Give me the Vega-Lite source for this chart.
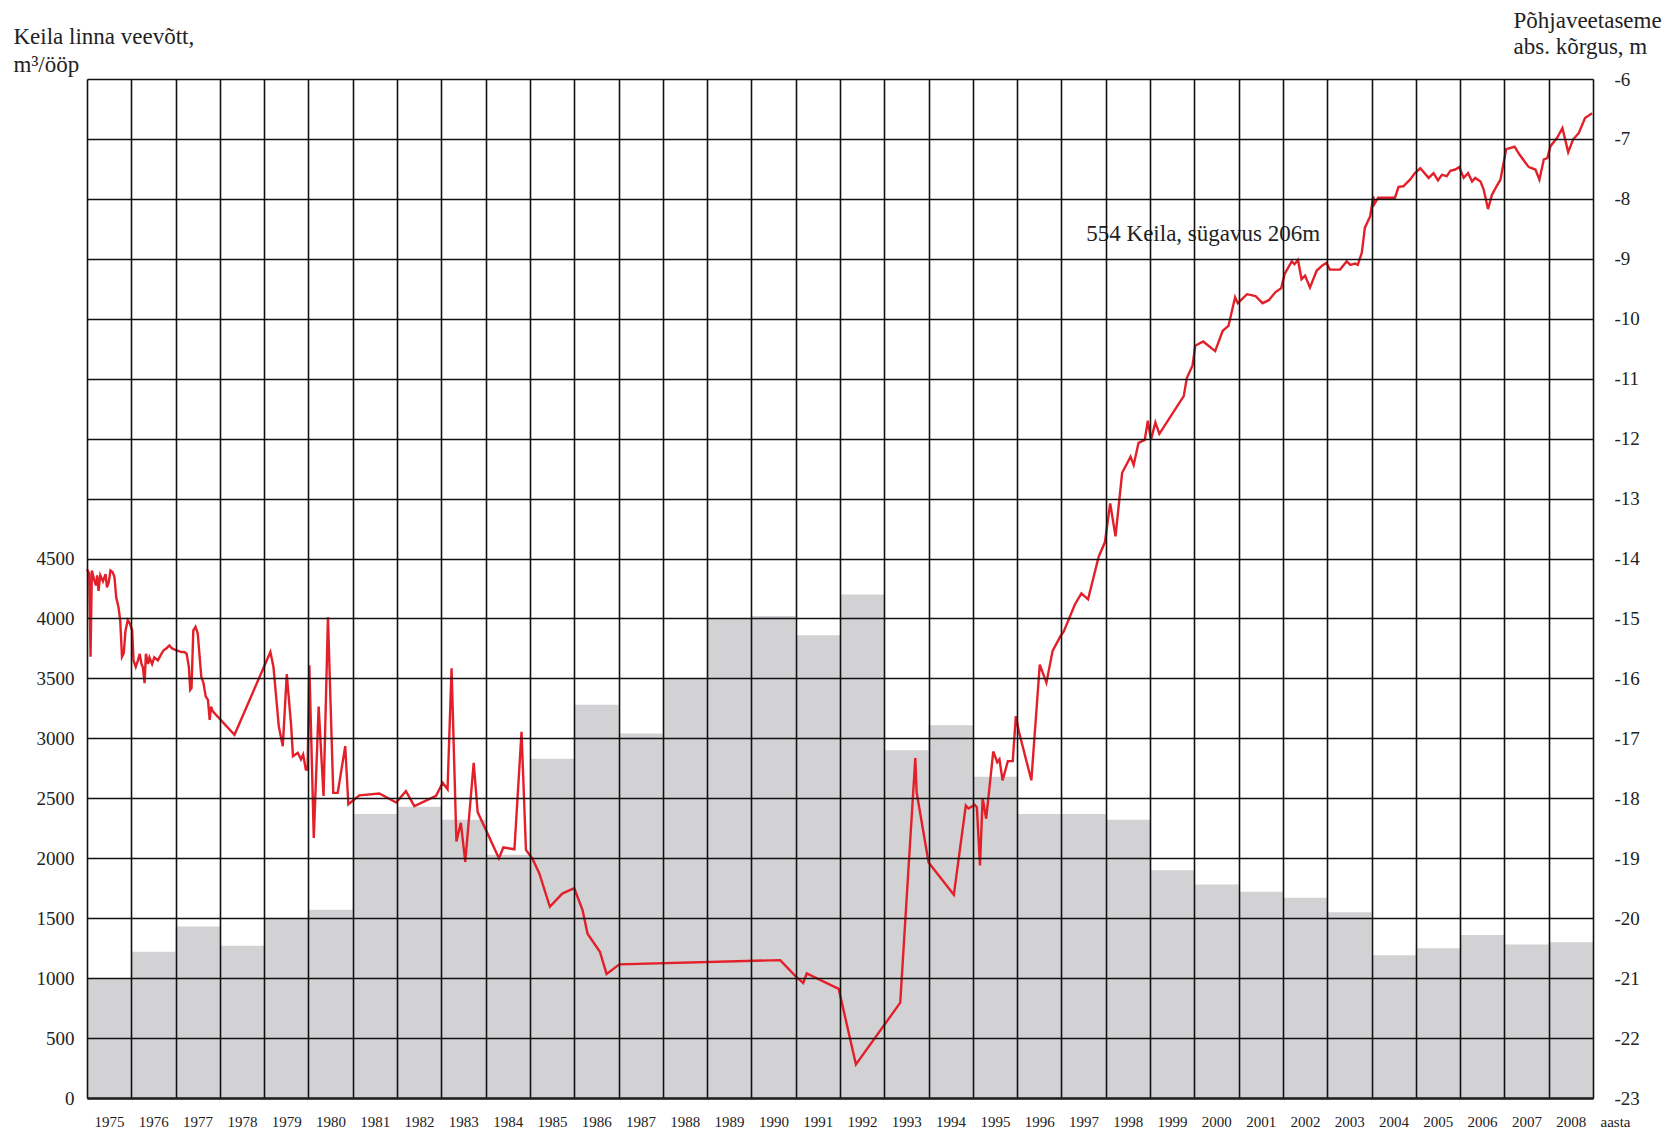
{
  "$schema": "https://vega.github.io/schema/vega-lite/v6.json",
  "autosize": {"type": "none"},
  "padding": {"left": 87, "top": 79, "right": 82, "bottom": 35},
  "width": 1506,
  "height": 1019,
  "background": "white",
  "config": {
    "view": {"stroke": null},
    "font": "Liberation Serif"
  },
  "datasets": {
    "bars": [
      {"from": 1975, "to": 1976, "v": 1000}, {"from": 1976, "to": 1977, "v": 1220},
      {"from": 1977, "to": 1978, "v": 1430}, {"from": 1978, "to": 1979, "v": 1270},
      {"from": 1979, "to": 1980, "v": 1500}, {"from": 1980, "to": 1981, "v": 1570},
      {"from": 1981, "to": 1982, "v": 2370}, {"from": 1982, "to": 1983, "v": 2430},
      {"from": 1983, "to": 1984, "v": 2320}, {"from": 1984, "to": 1985, "v": 2030},
      {"from": 1985, "to": 1986, "v": 2830}, {"from": 1986, "to": 1987, "v": 3280},
      {"from": 1987, "to": 1988, "v": 3040}, {"from": 1988, "to": 1989, "v": 3500},
      {"from": 1989, "to": 1990, "v": 4000}, {"from": 1990, "to": 1991, "v": 4020},
      {"from": 1991, "to": 1992, "v": 3860}, {"from": 1992, "to": 1993, "v": 4200},
      {"from": 1993, "to": 1994, "v": 2900}, {"from": 1994, "to": 1995, "v": 3110},
      {"from": 1995, "to": 1996, "v": 2680}, {"from": 1996, "to": 1997, "v": 2370},
      {"from": 1997, "to": 1998, "v": 2370}, {"from": 1998, "to": 1999, "v": 2320},
      {"from": 1999, "to": 2000, "v": 1900}, {"from": 2000, "to": 2001, "v": 1780},
      {"from": 2001, "to": 2002, "v": 1720}, {"from": 2002, "to": 2003, "v": 1670},
      {"from": 2003, "to": 2004, "v": 1550}, {"from": 2004, "to": 2005, "v": 1190},
      {"from": 2005, "to": 2006, "v": 1250}, {"from": 2006, "to": 2007, "v": 1360},
      {"from": 2007, "to": 2008, "v": 1280}, {"from": 2008, "to": 2009, "v": 1300}
    ],
    "level": [
      {"t": 1975.00, "h": -14.18}, {"t": 1975.05, "h": -14.25}, {"t": 1975.08, "h": -15.64},
      {"t": 1975.11, "h": -14.20}, {"t": 1975.16, "h": -14.35}, {"t": 1975.20, "h": -14.45},
      {"t": 1975.23, "h": -14.28}, {"t": 1975.26, "h": -14.54}, {"t": 1975.30, "h": -14.28},
      {"t": 1975.36, "h": -14.38}, {"t": 1975.42, "h": -14.26}, {"t": 1975.45, "h": -14.48},
      {"t": 1975.49, "h": -14.40}, {"t": 1975.53, "h": -14.20}, {"t": 1975.58, "h": -14.23},
      {"t": 1975.62, "h": -14.31}, {"t": 1975.66, "h": -14.65}, {"t": 1975.71, "h": -14.81},
      {"t": 1975.75, "h": -15.03}, {"t": 1975.79, "h": -15.64}, {"t": 1975.83, "h": -15.58},
      {"t": 1975.87, "h": -15.20}, {"t": 1975.92, "h": -15.03}, {"t": 1975.97, "h": -15.09},
      {"t": 1976.02, "h": -15.20}, {"t": 1976.05, "h": -15.70}, {"t": 1976.10, "h": -15.81},
      {"t": 1976.15, "h": -15.70}, {"t": 1976.19, "h": -15.59}, {"t": 1976.23, "h": -15.76},
      {"t": 1976.26, "h": -15.81}, {"t": 1976.30, "h": -16.08}, {"t": 1976.33, "h": -15.59},
      {"t": 1976.38, "h": -15.76}, {"t": 1976.41, "h": -15.65}, {"t": 1976.47, "h": -15.76},
      {"t": 1976.52, "h": -15.65}, {"t": 1976.60, "h": -15.70}, {"t": 1976.68, "h": -15.59},
      {"t": 1976.73, "h": -15.53}, {"t": 1976.79, "h": -15.50}, {"t": 1976.86, "h": -15.45},
      {"t": 1976.92, "h": -15.50}, {"t": 1977.01, "h": -15.53}, {"t": 1977.13, "h": -15.56},
      {"t": 1977.20, "h": -15.56}, {"t": 1977.25, "h": -15.59}, {"t": 1977.30, "h": -15.81},
      {"t": 1977.33, "h": -16.19}, {"t": 1977.36, "h": -16.16}, {"t": 1977.40, "h": -15.20},
      {"t": 1977.45, "h": -15.14}, {"t": 1977.50, "h": -15.25}, {"t": 1977.54, "h": -15.61},
      {"t": 1977.58, "h": -15.97}, {"t": 1977.63, "h": -16.08}, {"t": 1977.68, "h": -16.30},
      {"t": 1977.73, "h": -16.36}, {"t": 1977.77, "h": -16.69}, {"t": 1977.80, "h": -16.47},
      {"t": 1977.84, "h": -16.55}, {"t": 1978.33, "h": -16.94}, {"t": 1979.14, "h": -15.56},
      {"t": 1979.21, "h": -15.81}, {"t": 1979.33, "h": -16.80}, {"t": 1979.42, "h": -17.13},
      {"t": 1979.51, "h": -15.93}, {"t": 1979.61, "h": -16.80}, {"t": 1979.65, "h": -17.30},
      {"t": 1979.76, "h": -17.24}, {"t": 1979.83, "h": -17.35}, {"t": 1979.88, "h": -17.27},
      {"t": 1979.94, "h": -17.52}, {"t": 1979.98, "h": -17.52}, {"t": 1980.02, "h": -15.78},
      {"t": 1980.12, "h": -18.66}, {"t": 1980.23, "h": -16.47}, {"t": 1980.34, "h": -17.96},
      {"t": 1980.44, "h": -14.98}, {"t": 1980.56, "h": -17.91}, {"t": 1980.66, "h": -17.91},
      {"t": 1980.83, "h": -17.13}, {"t": 1980.90, "h": -18.10}, {"t": 1981.15, "h": -17.95},
      {"t": 1981.60, "h": -17.92}, {"t": 1981.98, "h": -18.07}, {"t": 1982.20, "h": -17.88},
      {"t": 1982.39, "h": -18.13}, {"t": 1982.88, "h": -17.96}, {"t": 1983.03, "h": -17.74},
      {"t": 1983.14, "h": -17.85}, {"t": 1983.23, "h": -15.83}, {"t": 1983.34, "h": -18.72},
      {"t": 1983.44, "h": -18.41}, {"t": 1983.54, "h": -19.06}, {"t": 1983.73, "h": -17.41},
      {"t": 1983.82, "h": -18.23}, {"t": 1984.30, "h": -19.00}, {"t": 1984.40, "h": -18.82},
      {"t": 1984.65, "h": -18.85}, {"t": 1984.81, "h": -16.89}, {"t": 1984.91, "h": -18.86},
      {"t": 1985.05, "h": -19.00}, {"t": 1985.21, "h": -19.25}, {"t": 1985.45, "h": -19.81},
      {"t": 1985.73, "h": -19.59}, {"t": 1986.00, "h": -19.50}, {"t": 1986.19, "h": -19.87},
      {"t": 1986.30, "h": -20.26}, {"t": 1986.58, "h": -20.56}, {"t": 1986.73, "h": -20.93},
      {"t": 1987.02, "h": -20.77}, {"t": 1990.65, "h": -20.70}, {"t": 1991.00, "h": -20.97},
      {"t": 1991.17, "h": -21.08}, {"t": 1991.25, "h": -20.92}, {"t": 1991.97, "h": -21.18},
      {"t": 1992.36, "h": -22.44}, {"t": 1993.36, "h": -21.41}, {"t": 1993.70, "h": -17.33},
      {"t": 1993.73, "h": -17.90}, {"t": 1994.00, "h": -19.07}, {"t": 1994.57, "h": -19.61},
      {"t": 1994.84, "h": -18.12}, {"t": 1994.90, "h": -18.17}, {"t": 1995.04, "h": -18.11},
      {"t": 1995.09, "h": -18.15}, {"t": 1995.16, "h": -19.12}, {"t": 1995.22, "h": -18.00},
      {"t": 1995.30, "h": -18.34}, {"t": 1995.46, "h": -17.22}, {"t": 1995.55, "h": -17.40},
      {"t": 1995.60, "h": -17.35}, {"t": 1995.67, "h": -17.70}, {"t": 1995.79, "h": -17.38},
      {"t": 1995.90, "h": -17.38}, {"t": 1995.97, "h": -16.63}, {"t": 1996.04, "h": -16.89},
      {"t": 1996.32, "h": -17.70}, {"t": 1996.51, "h": -15.77}, {"t": 1996.66, "h": -16.07},
      {"t": 1996.80, "h": -15.54}, {"t": 1996.98, "h": -15.29}, {"t": 1997.05, "h": -15.22},
      {"t": 1997.30, "h": -14.77}, {"t": 1997.45, "h": -14.58}, {"t": 1997.60, "h": -14.68},
      {"t": 1997.84, "h": -13.97}, {"t": 1997.98, "h": -13.73}, {"t": 1998.10, "h": -13.08},
      {"t": 1998.22, "h": -13.63}, {"t": 1998.37, "h": -12.57}, {"t": 1998.56, "h": -12.30},
      {"t": 1998.63, "h": -12.44}, {"t": 1998.74, "h": -12.07}, {"t": 1998.88, "h": -12.02},
      {"t": 1998.95, "h": -11.70}, {"t": 1999.02, "h": -12.02}, {"t": 1999.12, "h": -11.73},
      {"t": 1999.21, "h": -11.92}, {"t": 1999.76, "h": -11.29}, {"t": 1999.83, "h": -10.99},
      {"t": 1999.96, "h": -10.78}, {"t": 2000.02, "h": -10.45}, {"t": 2000.20, "h": -10.38},
      {"t": 2000.47, "h": -10.54}, {"t": 2000.64, "h": -10.20}, {"t": 2000.77, "h": -10.12},
      {"t": 2000.92, "h": -9.64}, {"t": 2000.98, "h": -9.74}, {"t": 2001.19, "h": -9.59},
      {"t": 2001.38, "h": -9.62}, {"t": 2001.54, "h": -9.74}, {"t": 2001.68, "h": -9.69},
      {"t": 2001.84, "h": -9.55}, {"t": 2001.96, "h": -9.49}, {"t": 2002.04, "h": -9.25},
      {"t": 2002.20, "h": -9.04}, {"t": 2002.26, "h": -9.09}, {"t": 2002.34, "h": -9.02},
      {"t": 2002.42, "h": -9.34}, {"t": 2002.50, "h": -9.28}, {"t": 2002.61, "h": -9.48},
      {"t": 2002.76, "h": -9.20}, {"t": 2002.89, "h": -9.11}, {"t": 2002.98, "h": -9.07},
      {"t": 2003.06, "h": -9.18}, {"t": 2003.29, "h": -9.18}, {"t": 2003.44, "h": -9.04},
      {"t": 2003.52, "h": -9.10}, {"t": 2003.63, "h": -9.08}, {"t": 2003.69, "h": -9.10},
      {"t": 2003.78, "h": -8.90}, {"t": 2003.85, "h": -8.48}, {"t": 2003.97, "h": -8.29},
      {"t": 2004.04, "h": -7.96}, {"t": 2004.06, "h": -8.09}, {"t": 2004.15, "h": -7.98},
      {"t": 2004.53, "h": -7.98}, {"t": 2004.61, "h": -7.80}, {"t": 2004.72, "h": -7.79},
      {"t": 2004.80, "h": -7.73}, {"t": 2004.87, "h": -7.68}, {"t": 2004.98, "h": -7.57},
      {"t": 2005.10, "h": -7.49}, {"t": 2005.29, "h": -7.65}, {"t": 2005.40, "h": -7.57},
      {"t": 2005.50, "h": -7.69}, {"t": 2005.59, "h": -7.60}, {"t": 2005.70, "h": -7.62},
      {"t": 2005.78, "h": -7.53}, {"t": 2005.89, "h": -7.51}, {"t": 2005.98, "h": -7.47},
      {"t": 2006.08, "h": -7.65}, {"t": 2006.18, "h": -7.57}, {"t": 2006.27, "h": -7.71},
      {"t": 2006.34, "h": -7.65}, {"t": 2006.46, "h": -7.71}, {"t": 2006.53, "h": -7.84},
      {"t": 2006.63, "h": -8.17}, {"t": 2006.72, "h": -7.93}, {"t": 2006.80, "h": -7.82},
      {"t": 2006.91, "h": -7.68}, {"t": 2007.04, "h": -7.17}, {"t": 2007.23, "h": -7.13},
      {"t": 2007.34, "h": -7.26}, {"t": 2007.55, "h": -7.47}, {"t": 2007.70, "h": -7.51},
      {"t": 2007.79, "h": -7.68}, {"t": 2007.89, "h": -7.34}, {"t": 2007.97, "h": -7.32},
      {"t": 2008.04, "h": -7.12}, {"t": 2008.19, "h": -6.98}, {"t": 2008.31, "h": -6.82},
      {"t": 2008.44, "h": -7.22}, {"t": 2008.55, "h": -7.01}, {"t": 2008.68, "h": -6.90},
      {"t": 2008.82, "h": -6.65}, {"t": 2008.98, "h": -6.57}
    ]
  },
  "layer": [
    {
      "data": {"name": "bars"},
      "mark": {"type": "rect", "color": "#d2d2d4", "stroke": null},
      "encoding": {
        "x": {
          "field": "from", "type": "quantitative",
          "scale": {"domain": [1975, 2009], "nice": false, "zero": false, "padding": 0},
          "axis": {
            "orient": "bottom",
            "values": [1975,1976,1977,1978,1979,1980,1981,1982,1983,1984,1985,1986,1987,1988,1989,1990,1991,1992,1993,1994,1995,1996,1997,1998,1999,2000,2001,2002,2003,2004,2005,2006,2007,2008,2009],
            "labelExpr": "datum.value == 2009 ? 'aasta' : format(datum.value, 'd')",
            "labelOffset": 22,
            "labelFlush": false,
            "labelOverlap": false,
            "labelBound": false,
            "labelFont": "Liberation Serif",
            "labelFontSize": 15,
            "labelColor": "#222",
            "labelBaseline": "top",
            "labelPadding": 16,
            "ticks": false,
            "domain": true,
            "domainColor": "#222",
            "domainWidth": 2.5,
            "grid": true,
            "gridColor": "#111",
            "gridWidth": 1.6,
            "gridOpacity": 1,
            "zindex": 1,
            "title": null
          }
        },
        "x2": {"field": "to"},
        "y": {
          "field": "v", "type": "quantitative",
          "scale": {"domain": [0, 8500], "nice": false, "zero": true},
          "axis": {
            "orient": "left",
            "values": [0,500,1000,1500,2000,2500,3000,3500,4000,4500,5000,5500,6000,6500,7000,7500,8000,8500],
            "labelExpr": "datum.value <= 4500 ? format(datum.value, 'd') : ''",
            "labelFont": "Liberation Serif",
            "labelFontSize": 19,
            "labelColor": "#222",
            "labelPadding": 13,
            "ticks": false,
            "domain": false,
            "grid": true,
            "gridColor": "#111",
            "gridWidth": 1.6,
            "gridOpacity": 1,
            "zindex": 1,
            "title": ["Keila linna veevõtt,", "m³/ööp"],
            "titleFont": "Liberation Serif",
            "titleFontSize": 23,
            "titleFontWeight": "normal",
            "titleColor": "#222",
            "titleAngle": 0,
            "titleAlign": "left",
            "titleBaseline": "alphabetic",
            "titleLineHeight": 28,
            "titleX": -74,
            "titleY": -36
          }
        },
        "y2": {"datum": 0}
      }
    },
    {
      "layer": [
        {
          "data": {"name": "level"},
          "mark": {"type": "line", "color": "#e3202a", "strokeWidth": 2.4, "interpolate": "linear"},
          "encoding": {
            "x": {"field": "t", "type": "quantitative"},
            "y": {
              "field": "h", "type": "quantitative",
              "scale": {"domain": [-23, -6], "nice": false, "zero": false},
              "axis": {
                "orient": "right",
                "values": [-23,-22,-21,-20,-19,-18,-17,-16,-15,-14,-13,-12,-11,-10,-9,-8,-7,-6],
                "labelExpr": "'' + datum.value",
                "labelFont": "Liberation Serif",
                "labelFontSize": 19,
                "labelColor": "#222",
                "labelPadding": 21,
                "ticks": false,
                "domain": false,
                "grid": false,
                "title": ["Põhjaveetaseme", "abs. kõrgus, m"],
                "titleFont": "Liberation Serif",
                "titleFontSize": 23,
                "titleFontWeight": "normal",
                "titleColor": "#222",
                "titleAngle": 0,
                "titleAlign": "left",
                "titleBaseline": "alphabetic",
                "titleLineHeight": 26,
                "titleX": -80,
                "titleY": -52
              }
            }
          }
        },
        {
          "data": {"values": [{}]},
          "mark": {"type": "text", "font": "Liberation Serif", "fontSize": 23, "color": "#222", "align": "center", "baseline": "alphabetic"},
          "encoding": {
            "x": {"datum": 2000.2, "type": "quantitative"},
            "y": {"datum": -8.7, "type": "quantitative"},
            "text": {"value": "554 Keila, sügavus 206m"}
          }
        }
      ]
    }
  ],
  "resolve": {"scale": {"y": "independent"}, "axis": {"y": "independent"}}
}
